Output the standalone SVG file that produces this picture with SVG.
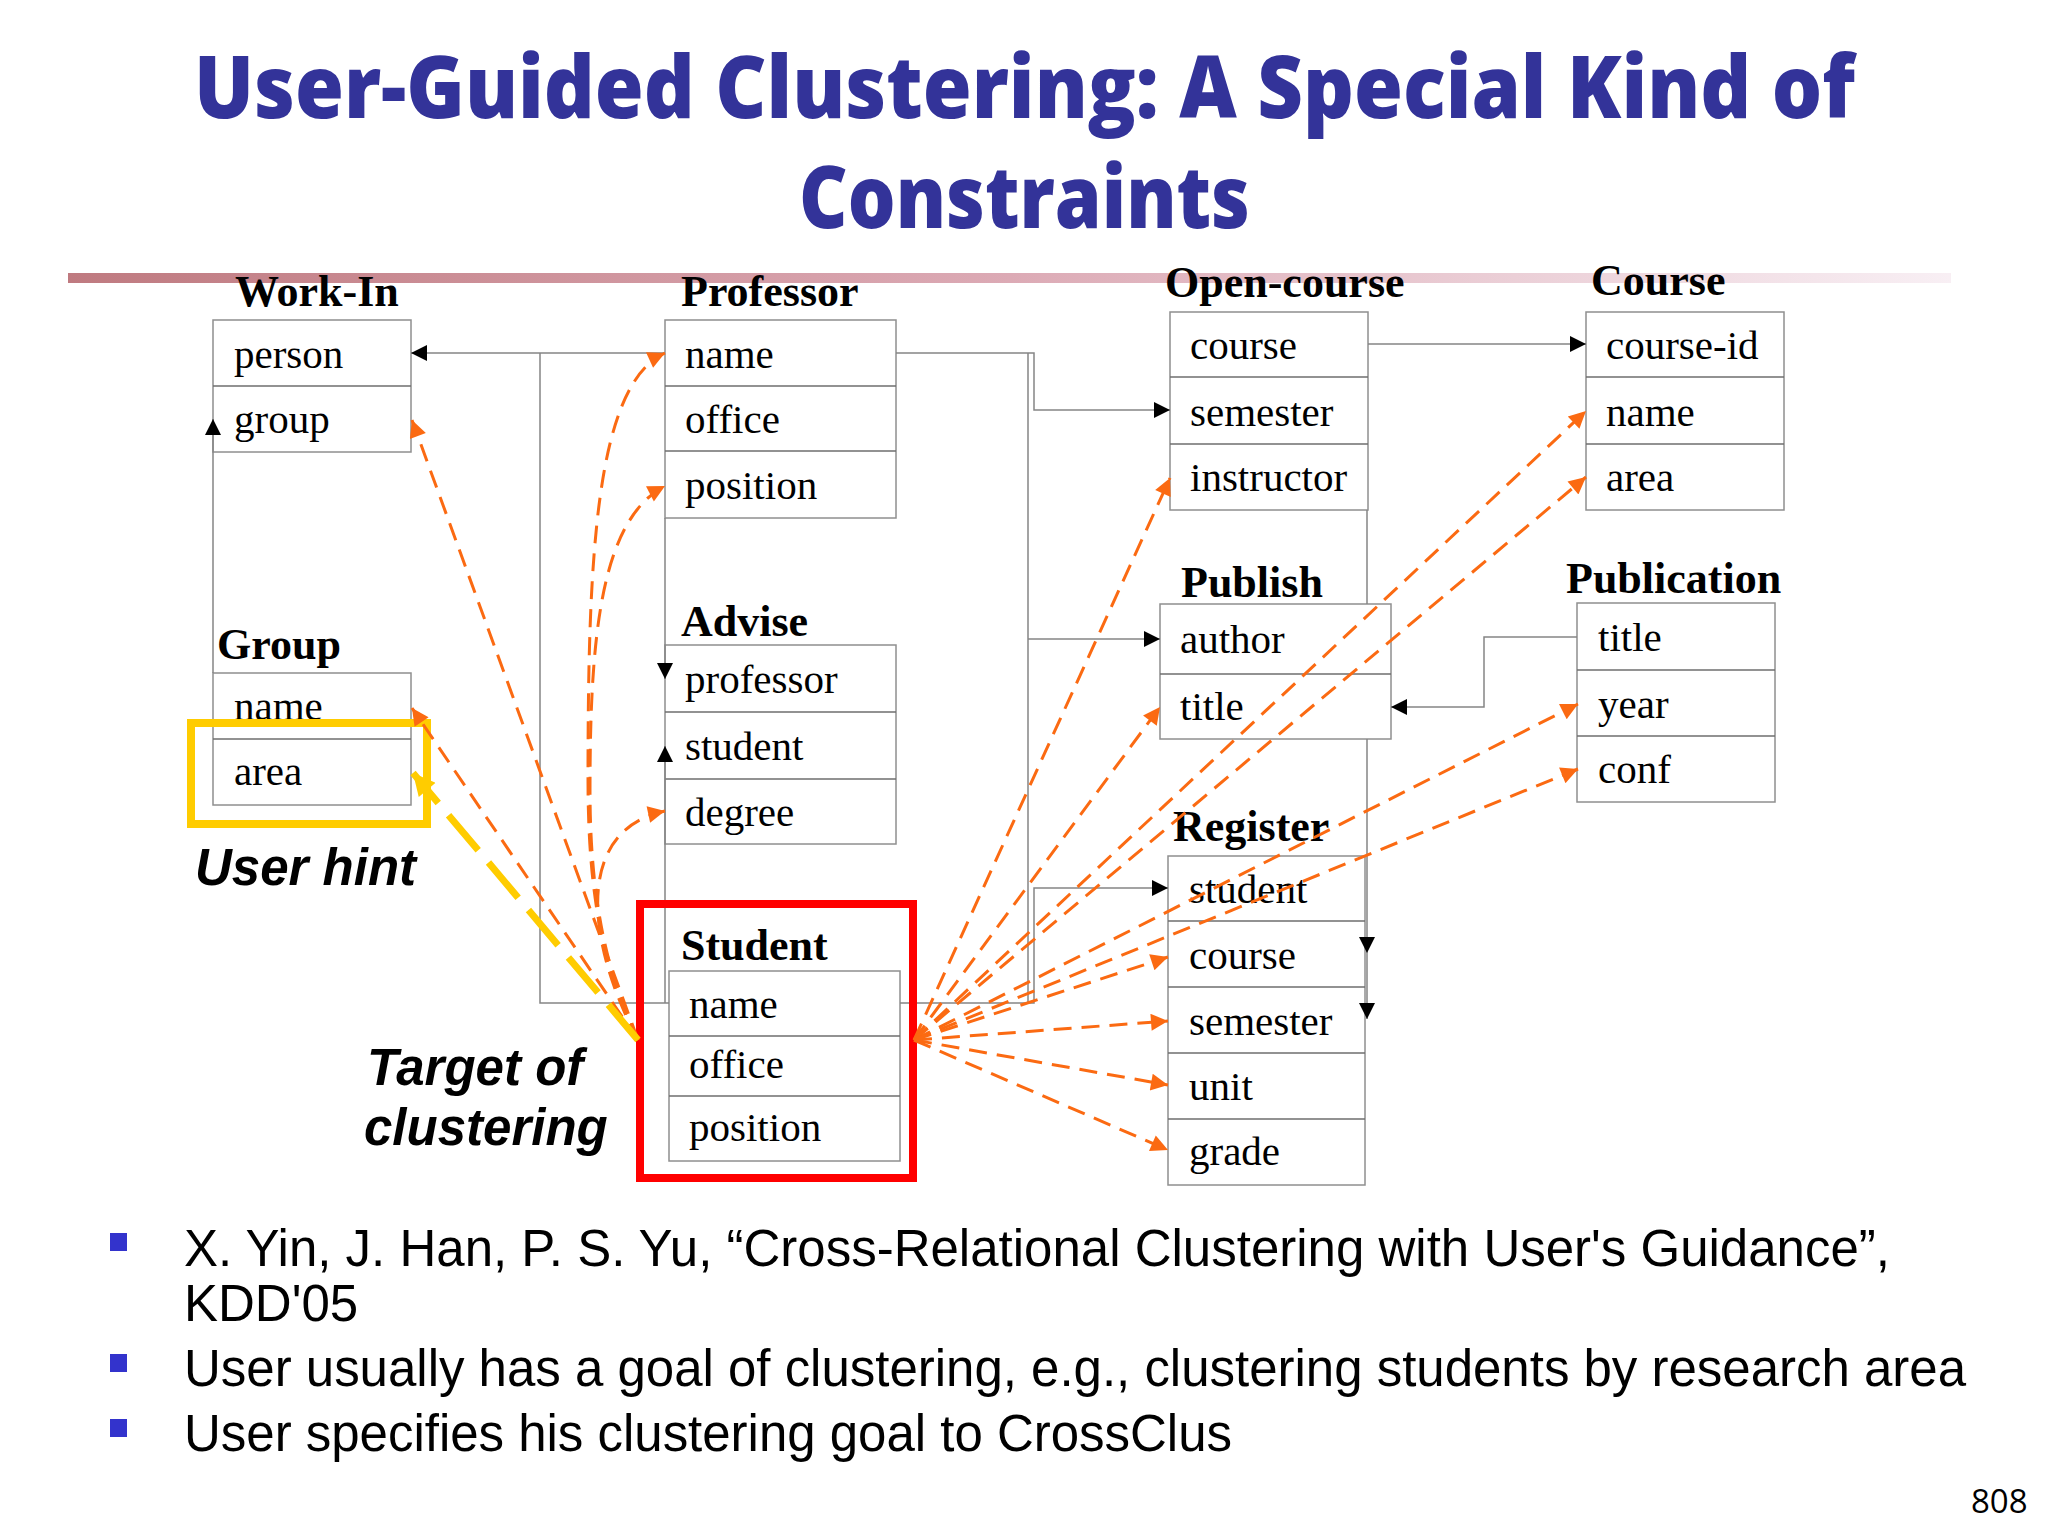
<svg xmlns="http://www.w3.org/2000/svg" width="2048" height="1536" viewBox="0 0 2048 1536">
<defs>
<linearGradient id="bar" x1="0" x2="1" y1="0" y2="0">
<stop offset="0" stop-color="#bf7a80"/>
<stop offset="0.5" stop-color="#dcaab5"/>
<stop offset="1" stop-color="#f8eff4"/>
</linearGradient>
<marker id="ab" viewBox="0 0 10 10" refX="10" refY="5" markerWidth="16" markerHeight="16" markerUnits="userSpaceOnUse" orient="auto"><path d="M0,0 L10,5 L0,10 z" fill="#000"/></marker>
<marker id="ao" viewBox="0 0 10 10" refX="10" refY="5" markerWidth="22" markerHeight="17" markerUnits="userSpaceOnUse" orient="auto"><path d="M0,0 L10,5 L0,10 z" fill="#fb6a12"/></marker>
<marker id="ay" viewBox="0 0 10 10" refX="10" refY="5" markerWidth="26" markerHeight="22" markerUnits="userSpaceOnUse" orient="auto"><path d="M0,0 L10,5 L0,10 z" fill="#ffcc00"/></marker>
<style>
.title{font-family:"Open Sans","Liberation Sans",sans-serif;font-weight:800;font-size:87px;fill:#333399}
.t{font-family:"Liberation Serif","Times New Roman",serif;font-weight:bold;font-size:44px;fill:#000}
.f{font-family:"Liberation Serif","Times New Roman",serif;font-size:41px;fill:#000}
.box{fill:#fff;stroke:#8f8f8f;stroke-width:1.5}
.sep{stroke:#6e6e6e;stroke-width:1.5}
.c{fill:none;stroke:#858585;stroke-width:1.5}
.o{fill:none;stroke:#fb6a12;stroke-width:3;stroke-dasharray:18 10;marker-end:url(#ao)}
.y{fill:none;stroke:#ffcc00;stroke-width:7;stroke-dasharray:46 16;marker-end:url(#ay)}
.lbl{font-family:"Liberation Sans",Arial,sans-serif;font-weight:bold;font-style:italic;font-size:51px;fill:#000}
.bt{font-family:"Liberation Sans",Arial,sans-serif;font-size:51px;fill:#000}
.bul{fill:#3333cc}
</style>
</defs>
<rect width="2048" height="1536" fill="#fff"/>

<g id="title">
<text class="title" x="194" y="118" textLength="1661" lengthAdjust="spacingAndGlyphs">User-Guided Clustering: A Special Kind of</text>
<text class="title" x="799" y="228" textLength="451" lengthAdjust="spacingAndGlyphs">Constraints</text>
<rect x="68" y="273" width="1883" height="10" fill="url(#bar)"/>
</g>

<g id="work-in">
<text class="t" x="235" y="306">Work-In</text>
<rect class="box" x="213" y="320" width="198" height="132"/>
<line class="sep" x1="213" y1="386" x2="411" y2="386"/>
<text class="f" x="234" y="368">person</text>
<text class="f" x="234" y="433">group</text>
</g>

<g id="professor">
<text class="t" x="681" y="306">Professor</text>
<rect class="box" x="665" y="320" width="231" height="198"/>
<line class="sep" x1="665" y1="386" x2="896" y2="386"/>
<line class="sep" x1="665" y1="451" x2="896" y2="451"/>
<text class="f" x="685" y="368">name</text>
<text class="f" x="685" y="433">office</text>
<text class="f" x="685" y="499">position</text>
</g>

<g id="open-course">
<text class="t" x="1165" y="297">Open-course</text>
<rect class="box" x="1170" y="312" width="198" height="198"/>
<line class="sep" x1="1170" y1="377" x2="1368" y2="377"/>
<line class="sep" x1="1170" y1="444" x2="1368" y2="444"/>
<text class="f" x="1190" y="359">course</text>
<text class="f" x="1190" y="426">semester</text>
<text class="f" x="1190" y="491">instructor</text>
</g>

<g id="course">
<text class="t" x="1591" y="295">Course</text>
<rect class="box" x="1586" y="312" width="198" height="198"/>
<line class="sep" x1="1586" y1="377" x2="1784" y2="377"/>
<line class="sep" x1="1586" y1="444" x2="1784" y2="444"/>
<text class="f" x="1606" y="359">course-id</text>
<text class="f" x="1606" y="426">name</text>
<text class="f" x="1606" y="491">area</text>
</g>

<g id="group">
<text class="t" x="217" y="659">Group</text>
<rect class="box" x="213" y="673" width="198" height="132"/>
<line class="sep" x1="213" y1="739" x2="411" y2="739"/>
<text class="f" x="234" y="720">name</text>
<text class="f" x="234" y="785">area</text>
</g>

<g id="advise">
<text class="t" x="681" y="636">Advise</text>
<rect class="box" x="665" y="645" width="231" height="199"/>
<line class="sep" x1="665" y1="712" x2="896" y2="712"/>
<line class="sep" x1="665" y1="779" x2="896" y2="779"/>
<text class="f" x="685" y="693">professor</text>
<text class="f" x="685" y="760">student</text>
<text class="f" x="685" y="826">degree</text>
</g>

<g id="publish">
<text class="t" x="1181" y="597">Publish</text>
<rect class="box" x="1160" y="604" width="231" height="135"/>
<line class="sep" x1="1160" y1="674" x2="1391" y2="674"/>
<text class="f" x="1180" y="653">author</text>
<text class="f" x="1180" y="720">title</text>
</g>

<g id="publication">
<text class="t" x="1566" y="593">Publication</text>
<rect class="box" x="1577" y="603" width="198" height="199"/>
<line class="sep" x1="1577" y1="670" x2="1775" y2="670"/>
<line class="sep" x1="1577" y1="736" x2="1775" y2="736"/>
<text class="f" x="1598" y="651">title</text>
<text class="f" x="1598" y="718">year</text>
<text class="f" x="1598" y="783">conf</text>
</g>

<g id="register">
<text class="t" x="1173" y="841">Register</text>
<rect class="box" x="1168" y="856" width="197" height="329"/>
<line class="sep" x1="1168" y1="921" x2="1365" y2="921"/>
<line class="sep" x1="1168" y1="987" x2="1365" y2="987"/>
<line class="sep" x1="1168" y1="1053" x2="1365" y2="1053"/>
<line class="sep" x1="1168" y1="1119" x2="1365" y2="1119"/>
<text class="f" x="1189" y="903">student</text>
<text class="f" x="1189" y="969">course</text>
<text class="f" x="1189" y="1035">semester</text>
<text class="f" x="1189" y="1100">unit</text>
<text class="f" x="1189" y="1165">grade</text>
</g>

<g id="student">
<text class="t" x="681" y="960">Student</text>
<rect class="box" x="669" y="971" width="231" height="190"/>
<line class="sep" x1="669" y1="1036" x2="900" y2="1036"/>
<line class="sep" x1="669" y1="1096" x2="900" y2="1096"/>
<text class="f" x="689" y="1018">name</text>
<text class="f" x="689" y="1078">office</text>
<text class="f" x="689" y="1141">position</text>
</g>

<g id="connectors">
<path class="c" d="M665,353 H411" marker-end="url(#ab)"/>
<path class="c" d="M540,353 V1003 H669"/>
<path class="c" d="M896,353 H1034 V410 H1170" marker-end="url(#ab)"/>
<path class="c" d="M1028,353 V1003"/>
<path class="c" d="M1028,639 H1160" marker-end="url(#ab)"/>
<path class="c" d="M900,1003 H1034 V888 H1168" marker-end="url(#ab)"/>
<path class="c" d="M1368,344 H1586" marker-end="url(#ab)"/>
<path class="c" d="M1577,637 H1484 V707 H1391" marker-end="url(#ab)"/>
<path class="c" d="M1367,510 V604"/>
<path class="c" d="M1367,739 V953" marker-end="url(#ab)"/>
<path class="c" d="M1367,953 V1019" marker-end="url(#ab)"/>
<path class="c" d="M665,518 V679" marker-end="url(#ab)"/>
<path class="c" d="M665,1003 V746" marker-end="url(#ab)"/>
<path class="c" d="M213,673 V419" marker-end="url(#ab)"/>
</g>

<g id="highlights">
<rect x="191" y="723" width="236" height="101" fill="none" stroke="#ffcc00" stroke-width="8"/>
<rect x="640" y="904" width="273" height="274" fill="none" stroke="#ff0000" stroke-width="8"/>
</g>

<g id="hint-links">
<path class="o" d="M638,1040 L412,420"/>
<path class="o" d="M638,1040 L412,708"/>
<path class="o" d="M638,1040 C605,975 588,900 588,780 C588,560 595,385 665,353"/>
<path class="o" d="M638,1040 C607,975 590,900 590,790 C590,640 600,520 665,486"/>
<path class="o" d="M638,1040 C585,940 575,830 665,811"/>
<path class="o" d="M914,1040 L1170,478"/>
<path class="o" d="M914,1040 L1160,707"/>
<path class="o" d="M914,1040 L1586,411"/>
<path class="o" d="M914,1040 L1586,477"/>
<path class="o" d="M914,1040 L1578,704"/>
<path class="o" d="M914,1040 L1578,769"/>
<path class="o" d="M914,1040 L1168,957"/>
<path class="o" d="M914,1040 L1168,1021"/>
<path class="o" d="M914,1040 L1168,1085"/>
<path class="o" d="M914,1040 L1168,1150"/>
<path class="y" d="M638,1040 L413,773"/>
</g>

<g id="labels">
<text class="lbl" x="195" y="885">User hint</text>
<text class="lbl" x="367" y="1085">Target of</text>
<text class="lbl" x="364" y="1145">clustering</text>
</g>

<g id="bullets">
<rect class="bul" x="110" y="1233" width="17" height="18"/>
<text class="bt" x="184" y="1266" textLength="1706">X. Yin, J. Han, P. S. Yu, “Cross-Relational Clustering with User's Guidance”,</text>
<text class="bt" x="184" y="1321">KDD'05</text>
<rect class="bul" x="110" y="1354" width="17" height="18"/>
<text class="bt" x="184" y="1386" textLength="1782">User usually has a goal of clustering, e.g., clustering students by research area</text>
<rect class="bul" x="110" y="1419" width="17" height="18"/>
<text class="bt" x="184" y="1451" textLength="1048">User specifies his clustering goal to CrossClus</text>
</g>

<text x="1971" y="1513" font-family="Open Sans, Liberation Sans, sans-serif" font-size="33" fill="#000">808</text>
</svg>
